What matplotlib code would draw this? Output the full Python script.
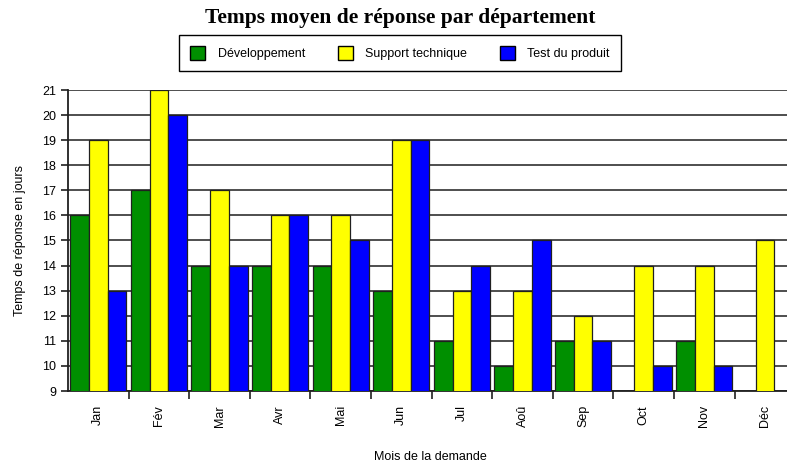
import numpy as np
import matplotlib.pyplot as plt
from matplotlib.patches import Patch

# ---- data ----
mois = ['Jan', 'Fév', 'Mar', 'Avr', 'Mai', 'Jun', 'Jul', 'Aoû', 'Sep', 'Oct', 'Nov', 'Déc']
developpement = [16, 17, 14, 14, 14, 13, 11, 10, 11, np.nan, 11, np.nan]
support = [19, 21, 17, 16, 16, 19, 13, 13, 12, 14, 14, 15]
test_produit = [13, 20, 14, 16, 15, 19, 14, 15, 11, 10, 10, np.nan]

series = [('Développement', developpement, '#008f00'),
          ('Support technique', support, '#ffff00'),
          ('Test du produit', test_produit, '#0000ff')]

plt.rcParams['font.family'] = ['Liberation Sans', 'DejaVu Sans']

fig = plt.figure(figsize=(7.87, 4.65), dpi=100)
ax = fig.add_axes([68 / 787, 74 / 465, 719 / 787, 301 / 465])

x = np.arange(len(mois))
w = 0.31
for i, (name, vals, col) in enumerate(series):
    ax.bar(x + (i - 1) * w, vals, width=w, color=col, edgecolor='#202020',
           linewidth=0.9, zorder=3)

ax.set_ylim(9, 21)
ax.set_xlim(-0.5, -0.5 + 719 / 60.6)
ax.set_yticks(range(9, 22))
ax.yaxis.grid(True, color='#404040', linewidth=1.3, zorder=0)
ax.set_axisbelow(True)

# ticks at category boundaries, labels at centres
ax.set_xticks(np.arange(len(mois) - 1) + 0.5)
ax.set_xticklabels([])
ax.set_xticks(x, minor=True)
ax.set_xticklabels(mois, minor=True, rotation=90, fontsize=9)
ax.tick_params(axis='x', which='minor', length=0, pad=10)
ax.tick_params(axis='x', which='major', length=6, width=1.2, color='#202020')
ax.tick_params(axis='y', length=5, width=1.2, labelsize=9, color='#202020')

for s in ['top', 'right']:
    ax.spines[s].set_visible(False)
for s in ['left', 'bottom']:
    ax.spines[s].set_linewidth(1.3)
    ax.spines[s].set_color('#202020')

ax.set_ylabel('Temps de réponse en jours', fontsize=9, labelpad=12)
fig.text(430 / 787, 1 - 457 / 465, 'Mois de la demande', fontsize=9,
         ha='center', va='center')

fig.text(400 / 787, 1 - 18 / 465, 'Temps moyen de réponse par département',
         fontsize=15.5, fontweight='bold', family='Liberation Serif',
         ha='center', va='center')

handles = [Patch(facecolor=c, edgecolor='black', label=n) for n, v, c in series]
leg = fig.legend(handles=handles, ncol=3, loc='center',
                 bbox_to_anchor=(400 / 787, 1 - 53 / 465), fontsize=9,
                 fancybox=False, edgecolor='black', framealpha=1,
                 handlelength=1.2, handleheight=1.3, columnspacing=2.6,
                 handletextpad=1.0, borderpad=0.9, borderaxespad=0)
leg.get_frame().set_linewidth(1.0)

fig.savefig('out.png', dpi=100)
